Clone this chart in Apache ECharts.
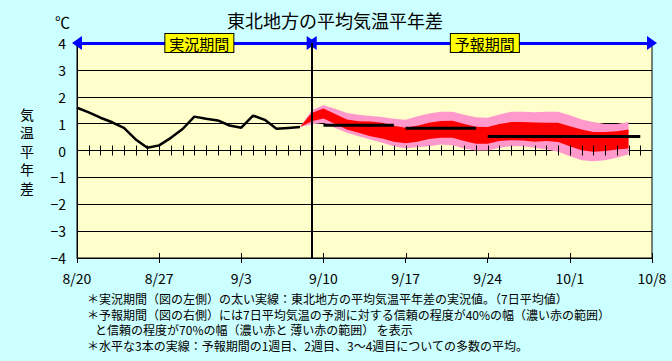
<!DOCTYPE html>
<html><head><meta charset="utf-8">
<script src="https://cdn.jsdelivr.net/npm/echarts@6/dist/echarts.min.js"></script>
<style>html,body{margin:0;padding:0;background:#ccffff;}#c{width:672px;height:361px;}</style>
</head><body><div id="c"></div>
<script>
// ---- data ----
// x is the day index counted from 8/20 (day 0)
const tickLabels = ['8/20','8/27','9/3','9/10','9/17','9/24','10/1','10/8'];
const obsDays = [0,1,2,3,4,5,6,7,8,9,10,11,12,13,14,15,16,17,18,19];
const obsValues = [1.59,1.42,1.22,1.05,0.84,0.41,0.10,0.19,0.47,0.80,1.26,1.18,1.12,0.93,0.85,1.30,1.14,0.81,0.84,0.87];
const bandDays = [19,20,21,22,23,24,25,26,27,28,29,30,31,32,33,34,35,36,37,38,39,40,41,42,43,44,45,46,47];
const pinkUpper = [0.87,1.50,1.68,1.55,1.40,1.33,1.28,1.25,1.18,1.14,1.27,1.38,1.44,1.44,1.33,1.24,1.22,1.34,1.44,1.44,1.42,1.44,1.44,1.31,1.15,1.06,0.99,0.99,1.06];
const redUpper  = [0.87,1.40,1.56,1.36,1.15,1.09,1.08,1.03,0.92,0.85,0.92,1.03,1.10,1.11,0.99,0.88,0.87,0.99,1.06,1.06,1.04,1.03,1.03,0.90,0.78,0.69,0.69,0.72,0.78];
const redLower  = [0.87,1.09,1.19,0.99,0.78,0.66,0.53,0.45,0.33,0.27,0.33,0.43,0.47,0.47,0.35,0.25,0.25,0.35,0.38,0.37,0.33,0.35,0.32,0.16,0.01,-0.05,-0.02,0.04,0.07];
const pinkLower = [0.87,0.97,1.03,0.84,0.66,0.53,0.41,0.29,0.16,0.08,0.12,0.16,0.22,0.20,0.07,0.00,0.00,0.10,0.16,0.16,0.10,0.04,-0.05,-0.21,-0.36,-0.40,-0.36,-0.27,-0.15];
const weekStart = [21,28,35];
const weekEnd   = [27,34,48];
const weekMean  = [0.94,0.83,0.52];
const periodStart = 0, forecastStart = 20, periodEnd = 49;
const periodNames = ['実況期間','予報期間'];
const yName = '気\n温\n平\n年\n差';
const notes = [
  '＊実況期間（図の左側）の太い実線：東北地方の平均気温平年差の実況値。（7日平均値）',
  '＊予報期間（図の右側）には7日平均気温の予測に対する信頼の程度が40%の幅（濃い赤の範囲）',
  '   と信頼の程度が70%の幅（濃い赤と 薄い赤の範囲） を表示',
  '＊水平な3本の実線：予報期間の1週目、2週目、3～4週目についての多数の平均。'
];

// tick positions (one per day on the zero line, one per week on the bottom axis)
const dayTicks = [];
for (let d = periodStart + 1; d < periodEnd; d++) dayTicks.push(d);
const weekTicks = tickLabels.map((_, i) => i * 7);

// ---- chart ----
const FONT = '"Noto Sans CJK JP", "Noto Sans", sans-serif';
const chart = echarts.init(document.getElementById('c'), null, {renderer: 'svg'});

function bandSeries(upper, lower, color, z) {
  return {
    type: 'custom', z: z, silent: true, clip: true,
    data: [[bandDays[0], upper[0]]],
    renderItem: function (params, api) {
      const pts = [];
      for (let i = 0; i < bandDays.length; i++) pts.push(api.coord([bandDays[i], upper[i]]));
      for (let i = bandDays.length - 1; i >= 0; i--) pts.push(api.coord([bandDays[i], lower[i]]));
      return {type: 'polygon', shape: {points: pts}, style: {fill: color, stroke: null}};
    }
  };
}

function tickSeries(days, yLevel, up, down) {
  return {
    type: 'custom', z: 6, silent: true, clip: false,
    data: days.map(d => [d, yLevel]),
    renderItem: function (params, api) {
      const p = api.coord([api.value(0), api.value(1)]);
      const x = Math.round(p[0]) + 0.5;
      return {type: 'line', shape: {x1: x, y1: p[1] - up, x2: x, y2: p[1] + down},
              style: {stroke: '#000', lineWidth: 1}};
    }
  };
}

const labelBox = {
  show: true, position: 'middle', distance: -9,
  backgroundColor: '#ffff00', borderColor: '#000', borderWidth: 1,
  padding: [2, 4, 1, 4], color: '#000', fontSize: 15, fontFamily: FONT
};

const weekSeries = weekMean.map((m, i) => ({
  type: 'line', symbol: 'none', z: 4, silent: true,
  lineStyle: {color: '#000', width: 3},
  data: [[weekStart[i], m], [weekEnd[i], m]]
}));

chart.setOption({
  animation: false,
  backgroundColor: '#ccffff',
  textStyle: {fontFamily: FONT},
  title: {
    text: '東北地方の平均気温平年差', left: 335, top: 11, textAlign: 'center', padding: 0,
    textStyle: {fontSize: 18, fontWeight: 'normal', color: '#000', fontFamily: FONT}
  },
  grid: {left: 77, right: 20, top: 43, bottom: 103, show: true,
         backgroundColor: '#ffffcc', borderColor: '#000', borderWidth: 1},
  xAxis: {
    type: 'value', min: periodStart, max: periodEnd, interval: 7, position: 'bottom',
    splitLine: {show: false},
    axisLine: {onZero: false, lineStyle: {color: '#000', width: 1}},
    axisTick: {show: true, length: 5, lineStyle: {color: '#000'}},
    axisLabel: {margin: 13, fontSize: 14, color: '#000', fontFamily: FONT,
                formatter: v => tickLabels[Math.round(v / 7)] || ''}
  },
  yAxis: {
    type: 'value', min: -4, max: 4, interval: 1,
    name: yName, nameLocation: 'middle', nameRotate: 0, nameGap: 43,
    nameTextStyle: {fontSize: 14, lineHeight: 18.5, color: '#000', fontFamily: FONT},
    axisLine: {show: true, onZero: false, lineStyle: {color: '#000'}},
    axisTick: {show: false},
    axisLabel: {margin: 11, fontSize: 14, color: '#000', fontFamily: FONT,
                formatter: v => v < 0 ? '−' + Math.abs(v) : String(v)},
    splitLine: {show: true, lineStyle: {color: '#000', width: 1}}
  },
  graphic: [
    {type: 'text', left: 55, top: 14, style: {text: '℃', fill: '#000', font: '15px ' + FONT}},
    {type: 'text', left: 87, top: 291, style: {text: notes.join('\n'), fill: '#000',
      font: '12px ' + FONT, lineHeight: 15.5}}
  ],
  series: [
    bandSeries(pinkUpper, pinkLower, '#ff99cc', 2),
    bandSeries(redUpper, redLower, '#ff0000', 3),
    tickSeries(dayTicks, 0, 5, 5),
    tickSeries(weekTicks, -4, 5, 0),
    {
      type: 'line', symbol: 'none', z: 4, silent: true,
      lineStyle: {color: '#000', width: 2.5},
      data: obsDays.map((d, i) => [d, obsValues[i]]),
      markLine: {
        silent: true, symbol: ['triangle', 'triangle'], symbolSize: [14, 10],
        lineStyle: {color: '#0000ff', width: 3, type: 'solid'},
        label: labelBox, emphasis: {disabled: true},
        data: [
          [{coord: [periodStart, 4], label: Object.assign({}, labelBox, {formatter: periodNames[0], offset: [5, 0]})}, {coord: [forecastStart, 4]}],
          [{coord: [forecastStart, 4], label: Object.assign({}, labelBox, {formatter: periodNames[1], offset: [3, 0]})}, {coord: [periodEnd, 4]}]
        ]
      }
    },
    Object.assign({}, weekSeries[0], {
      markLine: {
        silent: true, symbol: 'none', label: {show: false}, emphasis: {disabled: true},
        lineStyle: {color: '#000', width: 2, type: 'solid'},
        data: [{xAxis: forecastStart}]
      }
    }),
    weekSeries[1],
    weekSeries[2]
  ]
});
</script></body></html>
